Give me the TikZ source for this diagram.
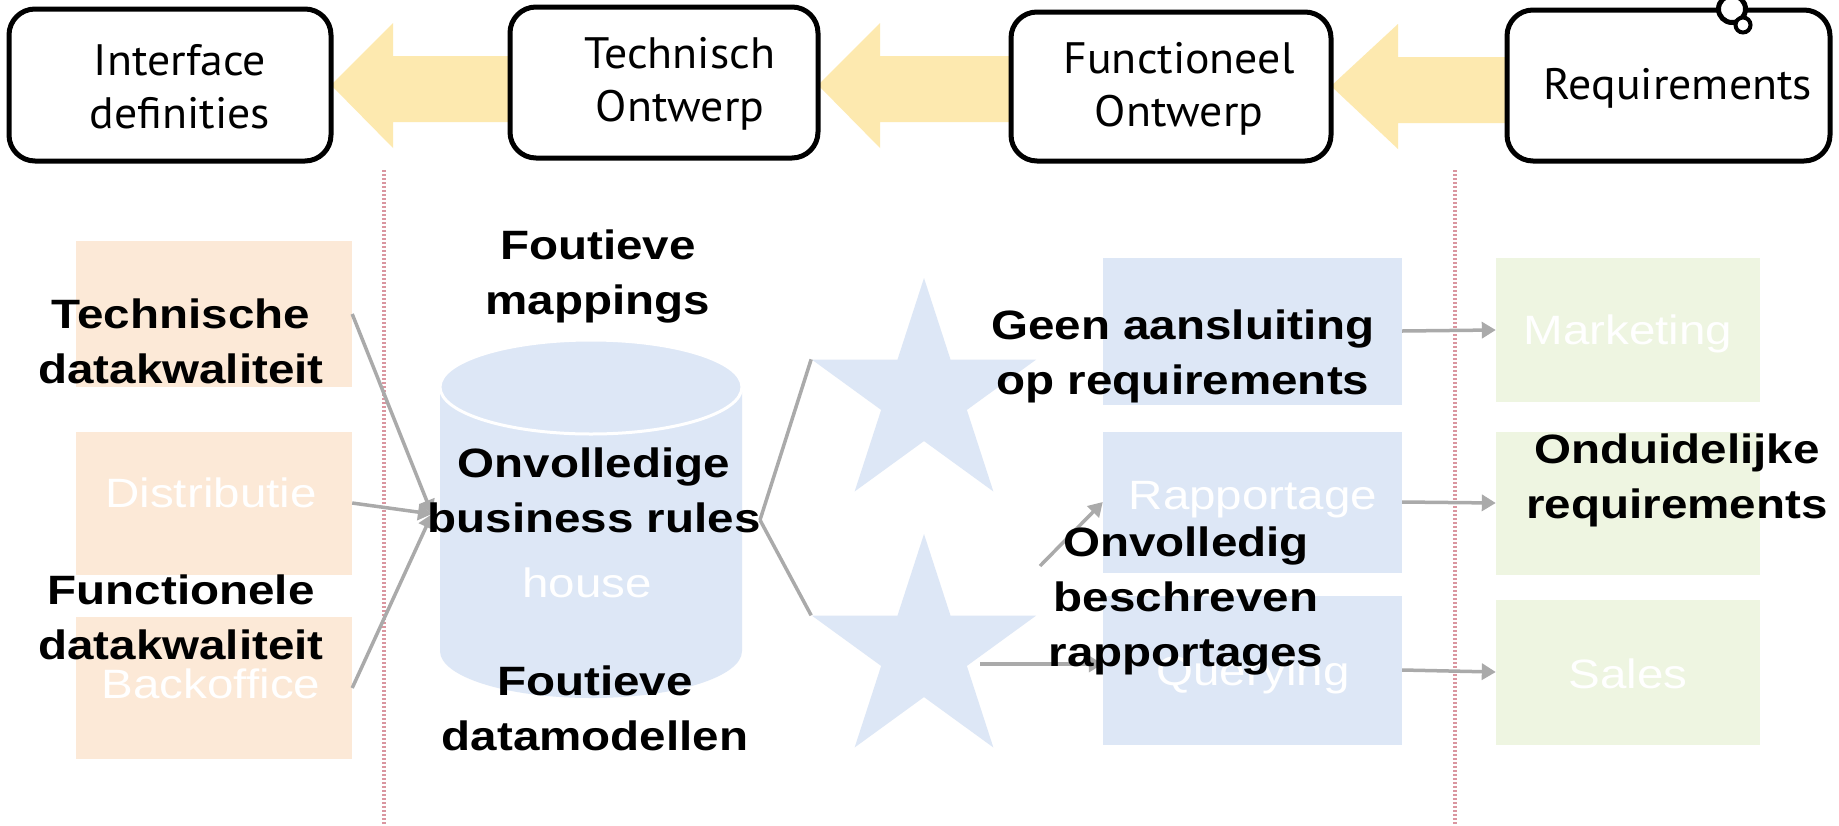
\documentclass[tikz,border=0pt]{standalone}
\usepackage{fontspec}
\setmainfont{Liberation Sans}
\newfontfamily\lblfont{Liberation Sans}[FakeStretch=1.16]
\newfontfamily\boxfont{PT Sans}[FakeStretch=1.04]
\usetikzlibrary{shapes.geometric, arrows.meta}
\definecolor{orfill}{RGB}{252,233,215}
\definecolor{blfill}{RGB}{221,231,246}
\definecolor{grfill}{RGB}{238,245,225}
\definecolor{yefill}{RGB}{253,233,175}
\definecolor{reddot}{RGB}{218,150,160}
\definecolor{conn}{RGB}{170,170,170}
\tikzset{
  topbox/.style={draw=black, line width=5pt, rounded corners=26pt, fill=white, inner sep=0pt},
  toptext/.style={font=\boxfont\fontsize{44}{53}\selectfont, align=center, inner sep=0pt},
  lbl/.style={font=\lblfont\bfseries\fontsize{41}{55}\selectfont, align=center, inner sep=0pt, text=black},
  fadebox/.style={inner sep=0pt, draw=none},
  fadetext/.style={font=\lblfont\fontsize{41}{50}\selectfont, text=white, inner sep=0pt},
  connector/.style={draw=conn, line width=3.5pt},
  tipconn/.style={connector, -{Triangle[length=14pt, width=16pt]}},
  sep/.style={draw=reddot, line width=4pt, dash pattern=on 2pt off 2pt},
  starshape/.style={star, star points=5, star point ratio=2.618, minimum size=236pt, fill=blfill, inner sep=0pt}
}
\begin{document}
\begin{tikzpicture}[x=1pt, y=-1pt]
\useasboundingbox (0,0) rectangle (1839,825);
\fill[white] (0,0) rectangle (1839,825);

% separators
\coordinate (s1t) at (384,170); \coordinate (s1b) at (384,825);
\coordinate (s2t) at (1455,170); \coordinate (s2b) at (1455,825);
\draw[sep] (s1t) -- (s1b);
\draw[sep] (s2t) -- (s2b);

% faded background boxes
\node[fadebox, fill=orfill, minimum width=276pt, minimum height=146pt] (oA) at (214,314) {};
\node[fadebox, fill=orfill, minimum width=276pt, minimum height=143pt] (oB) at (214,503) {};
\node[fadebox, fill=orfill, minimum width=276pt, minimum height=142pt] (oC) at (214,688) {};
\node[fadebox, fill=blfill, minimum width=299pt, minimum height=147pt] (bA) at (1252.5,331) {};
\node[fadebox, fill=blfill, minimum width=299pt, minimum height=141pt] (bB) at (1252.5,502) {};
\node[fadebox, fill=blfill, minimum width=299pt, minimum height=149pt] (bC) at (1252.5,670) {};
\node[fadebox, fill=grfill, minimum width=264pt, minimum height=144pt] (gA) at (1628,330) {};
\node[fadebox, fill=grfill, minimum width=264pt, minimum height=143pt] (gB) at (1628,503) {};
\node[fadebox, fill=grfill, minimum width=264pt, minimum height=145pt] (gC) at (1628,672) {};

% cylinder
\fill[blfill] (440,387) -- (440,651) arc[start angle=180, end angle=360, x radius=151, y radius=-47] -- (742,387) arc[start angle=0, end angle=180, x radius=151, y radius=-47] -- cycle;
\draw[white, line width=3pt] (591,387) ellipse[x radius=151, y radius=47];
\node[fadetext] (dwh) at (587,583) {house};

% stars
\node[starshape] (stA) at (924,396) {};
\node[starshape] (stB) at (924,652) {};

% faded texts
\node[fadetext] (tDis) at (211,493) {Distributie};
\node[fadetext] (tBack) at (211,684) {Backoffice};
\node[fadetext] (tMark) at (1628,334) {Marketing};
\node[fadetext] (tRap) at (1253,500) {Rapportage};
\node[fadetext] (tQue) at (1253,675) {Querying};
\node[fadetext] (tSal) at (1628,674) {Sales};

% connectors
\coordinate (cin) at (432,514);
\draw[tipconn] (oA.east) -- (cin);
\draw[tipconn] (oB.east) -- (cin);
\draw[tipconn] (oC.east) -- (cin);
\coordinate (cout) at (760,520);
\draw[connector] (cout) -- (stA.outer point 2);
\draw[connector] (cout) -- (stB.outer point 2);
\coordinate (sbr) at (1040,566);
\draw[tipconn] (sbr) -- (bB.west);
\coordinate (sbq) at (980,664);
\draw[tipconn] (sbq) -- (bC.west |- sbq);
\draw[tipconn] (bA.east) -- (gA.west);
\draw[tipconn] (bB.east) -- (gB.west);
\draw[tipconn] (bC.east) -- (gC.west);

% yellow arrows
\fill[yefill] (331,85) -- (393,23) -- (393,56) -- (530,56) -- (530,122) -- (393,122) -- (393,148) -- cycle;
\fill[yefill] (818,85) -- (880,23) -- (880,56) -- (1030,56) -- (1030,122) -- (880,122) -- (880,148) -- cycle;
\fill[yefill] (1331,86) -- (1398,24) -- (1398,57) -- (1525,57) -- (1525,123) -- (1398,123) -- (1398,149) -- cycle;

% top boxes
\node[topbox, minimum width=322pt, minimum height=152pt] (b1) at (170,85) {};
\node[topbox, minimum width=308pt, minimum height=151pt] (b2) at (664,82.5) {};
\node[topbox, minimum width=320pt, minimum height=149pt] (b3) at (1171,86.5) {};
\node[topbox, minimum width=323pt, minimum height=151pt] (b4) at (1668.5,85.5) {};
\node[draw=black, line width=5pt, fill=white, circle, minimum size=27pt, inner sep=0pt] (bub1) at (1732,9) {};
\node[draw=black, line width=4pt, fill=white, circle, minimum size=15pt, inner sep=0pt] (bub2) at (1743,25) {};

\node[toptext] (t1) at (180,87) {Interface\\definities};
\node[toptext] (t2) at (680,84) {Technisch\\Ontwerp};
\node[toptext] (t3) at (1179,89) {Functioneel\\Ontwerp};
\node[toptext] (t4) at (1678,88) {Requirements};

% bold labels
\node[lbl] (l1) at (181,341) {Technische\\datakwaliteit};
\node[lbl] (l2) at (181,617) {Functionele\\datakwaliteit};
\node[lbl] (l3) at (598,276) {Foutieve\\mappings};
\node[lbl] (l4) at (594,490) {Onvolledige\\business rules};
\node[lbl] (l5) at (595,708) {Foutieve\\datamodellen};
\node[lbl] (l6) at (1183,356) {Geen aansluiting\\op requirements};
\node[lbl] (l7) at (1186,601) {Onvolledig\\beschreven\\rapportages};
\node[lbl] (l8) at (1677,480) {Onduidelijke\\requirements};
\end{tikzpicture}
\end{document}
